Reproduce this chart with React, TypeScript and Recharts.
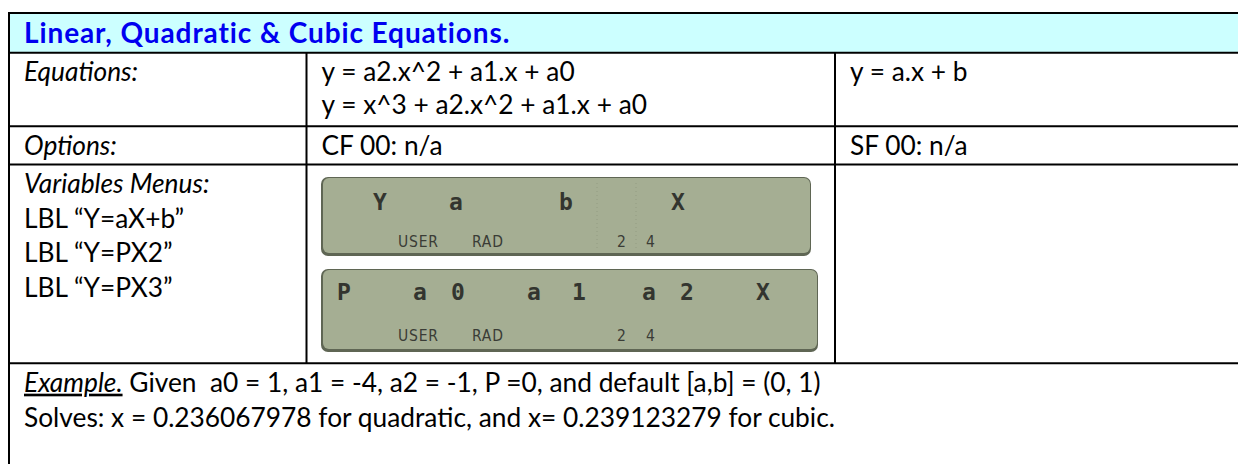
import React from "react";
import { Surface, Layer, Rectangle, Text } from "recharts";

// ---- content ----
const TITLE = "Linear, Quadratic & Cubic Equations.";
const ROW_LABELS = ["Equations:", "Options:", "Variables Menus:"];
const LBL_LINES = ["LBL \u201CY=aX+b\u201D", "LBL \u201CY=PX2\u201D", "LBL \u201CY=PX3\u201D"];
const POLY_EQUATIONS = ["y = a2.x^2 + a1.x + a0", "y = x^3 + a2.x^2 + a1.x + a0"];
const LINEAR_EQUATIONS = ["y = a.x + b"];
const OPTION_FLAGS = ["CF 00: n/a", "SF 00: n/a"];
const LCD1_KEYS = ["Y", "a", "b", "X"];
const LCD2_KEYS = ["P", "a", "0", "a", "1", "a", "2", "X"];
const LCD_ANNUNCIATORS = ["USER", "RAD", "2", "4"];
const EXAMPLE_LABEL = "Example.";
const EXAMPLE_GIVEN = " Given  a0 = 1, a1 = -4, a2 = -1, P =0, and default [a,b] = (0, 1)";
const EXAMPLE_SOLVES = "Solves: x = 0.236067978 for quadratic, and x= 0.239123279 for cubic.";

// ---- layout ----
const W = 1238;
const H = 464;
const FONT = "Lato, 'Noto Sans', sans-serif";
const FS = 26.3;
const LINE = 34.5;
const LEFT = 9;
const TOP = 13;
const COL1 = 306.5;
const COL2 = 835;
const ROWS = [52.8, 126.3, 164.6, 363.2];
const PAD_X = 15;
const BASE_PAD = 28.5;

const LCD1_BOX = { x: 321, y: 177, w: 490, h: 79 };
const LCD2_BOX = { x: 321, y: 269, w: 497, h: 83 };
const LCD1_SLOTS = [380, 456, 566, 678];
const LCD2_SLOTS = [344, 420, 458, 534, 579, 649, 687, 763];
const ANN_SLOTS = [398, 472, 617, 646];
const LCD1_DOTS = [597, 636];

const txt = (x: number, y: number, s: string, extra: any = {}) => (
  <text
    x={x}
    y={y}
    fontFamily={FONT}
    fontSize={FS}
    fill="#000"
    style={{ whiteSpace: "pre" }}
    {...extra}
  >
    {s}
  </text>
);

function Lcd({ box, keys, slots, glyphY, annY, dots }: any) {
  return (
    <Layer>
      <Rectangle x={box.x} y={box.y} width={box.w} height={box.h} radius={7} fill="#5f6654" />
      <Rectangle x={box.x + 2} y={box.y + 1} width={box.w - 3} height={box.h - 4} radius={6} fill="#a5ae93" />
      {(dots || []).map((d: number, i: number) => (
        <line
          key={"d" + i}
          x1={d}
          x2={d}
          y1={box.y + 6}
          y2={box.y + box.h - 8}
          stroke="#939c82"
          strokeWidth={1}
          strokeDasharray="1 3"
        />
      ))}
      {keys.map((k: string, i: number) => (
        <Text
          key={i}
          x={slots[i]}
          y={glyphY}
          textAnchor="middle"
          verticalAnchor="middle"
          fontFamily="'DejaVu Sans Mono', monospace"
          fontWeight="bold"
          fontSize={23}
          fill="#33352f"
        >
          {k}
        </Text>
      ))}
      {LCD_ANNUNCIATORS.map((a, i) => (
        <Text
          key={"a" + i}
          x={ANN_SLOTS[i]}
          y={annY}
          textAnchor="start"
          fontFamily="'DejaVu Sans Condensed', 'DejaVu Sans', sans-serif"
          fontSize={15.5}
          letterSpacing={0.8}
          fill="#3a3c36"
        >
          {a}
        </Text>
      ))}
    </Layer>
  );
}

export default function App() {
  const hLine = (y: number, x1: number, x2: number, key: string) => (
    <Rectangle key={key} x={x1} y={y - 1} width={x2 - x1} height={2} fill="#000" />
  );
  const vLine = (x: number, y1: number, y2: number, key: string) => (
    <Rectangle key={key} x={x - 1} y={y1} width={2} height={y2 - y1} fill="#000" />
  );
  const b0 = ROWS[0] + BASE_PAD;
  const b1 = ROWS[1] + BASE_PAD;
  const b2 = ROWS[2] + BASE_PAD;
  const b3 = ROWS[3] + BASE_PAD;
  return (
    <div style={{ position: "absolute", left: 0, top: 0, width: W, height: H, background: "#fff" }}>
      <Surface width={W} height={H}>
        <Rectangle x={LEFT} y={TOP} width={W - LEFT} height={ROWS[0] - TOP} fill="#ccffff" />
        {hLine(TOP, LEFT - 1, W, "top")}
        {ROWS.map((r, i) => hLine(r, LEFT - 1, W, "r" + i))}
        {vLine(LEFT, TOP - 1, H, "left")}
        {vLine(COL1, ROWS[0], ROWS[3], "c1")}
        {vLine(COL2, ROWS[0], ROWS[3], "c2")}

        {txt(LEFT + PAD_X, TOP + 30, TITLE, { fontWeight: "bold", fill: "#0000f0", fontSize: 28, letterSpacing: 0.9 })}

        {txt(LEFT + PAD_X, b0, ROW_LABELS[0], { fontStyle: "italic" })}
        {POLY_EQUATIONS.map((e, i) => (
          <React.Fragment key={"pe" + i}>{txt(COL1 + PAD_X, b0 + i * (LINE - 1.5), e)}</React.Fragment>
        ))}
        {LINEAR_EQUATIONS.map((e, i) => (
          <React.Fragment key={"le" + i}>{txt(COL2 + PAD_X, b0 + i * LINE, e)}</React.Fragment>
        ))}

        {txt(LEFT + PAD_X, b1, ROW_LABELS[1], { fontStyle: "italic" })}
        {txt(COL1 + PAD_X, b1, OPTION_FLAGS[0])}
        {txt(COL2 + PAD_X, b1, OPTION_FLAGS[1])}

        {txt(LEFT + PAD_X, b2, ROW_LABELS[2], { fontStyle: "italic" })}
        {LBL_LINES.map((l, i) => (
          <React.Fragment key={"lbl" + i}>{txt(LEFT + PAD_X, b2 + (i + 1) * LINE, l)}</React.Fragment>
        ))}

        <Lcd box={LCD1_BOX} keys={LCD1_KEYS} slots={LCD1_SLOTS} glyphY={202} annY={247} dots={LCD1_DOTS} />
        <Lcd box={LCD2_BOX} keys={LCD2_KEYS} slots={LCD2_SLOTS} glyphY={292} annY={341} />

        <text x={LEFT + PAD_X} y={b3} fontFamily={FONT} fontSize={FS} fill="#000" style={{ whiteSpace: "pre" }}>
          <tspan fontStyle="italic" textDecoration="underline">{EXAMPLE_LABEL}</tspan>
          <tspan>{EXAMPLE_GIVEN}</tspan>
        </text>
        {txt(LEFT + PAD_X, b3 + LINE + 1, EXAMPLE_SOLVES)}
      </Surface>
    </div>
  );
}
